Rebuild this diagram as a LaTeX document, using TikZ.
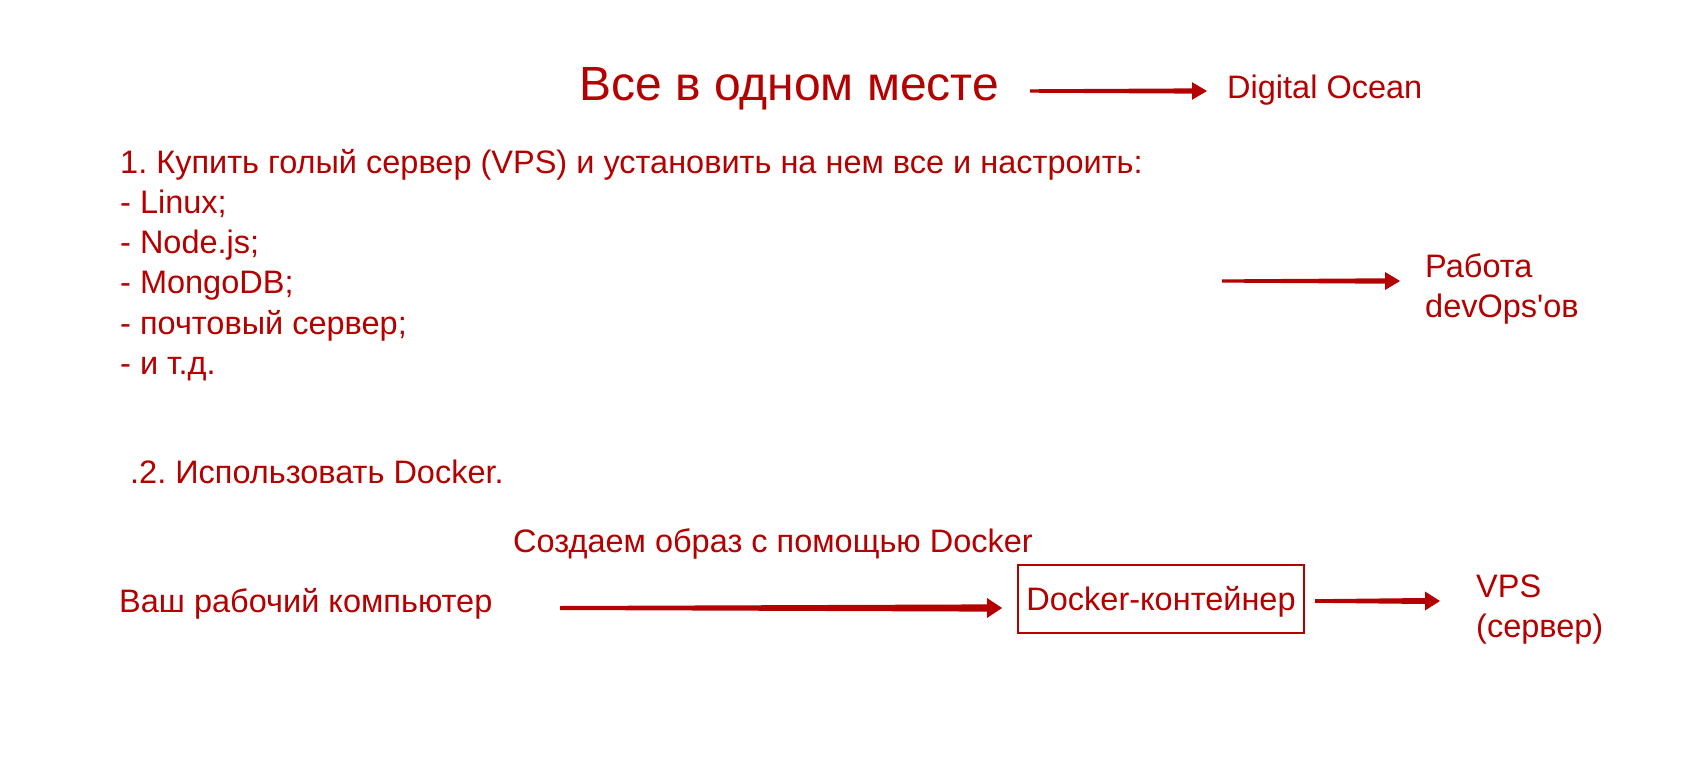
\documentclass[tikz,border=0pt]{standalone}
\usepackage{fontspec}
\setmainfont{Liberation Sans}
\usetikzlibrary{calc}
\frenchspacing
\definecolor{dred}{RGB}{180,0,0}
\newcommand\taperarrow[6]{%
  \fill[dred] let \p1=(#1), \p2=(#2) in
    (\x1,\y1+#3pt) -- (\x2-#6pt,\y2+#4pt) -- (\x2-#6pt,\y2+#5pt) -- (\x2,\y2)
    -- (\x2-#6pt,\y2-#5pt) -- (\x2-#6pt,\y2-#4pt) -- (\x1,\y1-#3pt) -- cycle;}
\tikzset{
  txt/.style={anchor=base west, inner sep=0pt, text=dred, font=\fontsize{32.5}{40}\selectfont},
  titletxt/.style={txt, font=\fontsize{48}{56}\selectfont},
  boxnode/.style={draw=dred, line width=1.5pt, text=dred, font=\fontsize{32.5}{40}\selectfont,
    minimum width=286pt, minimum height=68pt, text height=23pt, text depth=0pt, inner sep=0pt}
}
\begin{document}
\begin{tikzpicture}[x=1pt,y=-1pt]
\useasboundingbox (0,0) rectangle (1695,757);
\fill[white] (0,0) rectangle (1695,757);
% title line
\node[titletxt] (title) at (579,101) {Все в одном месте};
\node[txt] (ocean) at (1227,99) {Digital Ocean};
\coordinate (a1s) at (1030,91);
\coordinate (a1e) at (1207,91);
\taperarrow{a1s}{a1e}{1.7}{2.6}{8.8}{15}
% list
\node[txt] (l1) at (120,173) {1. Купить голый сервер (VPS) и установить на нем все и настроить:};
\node[txt] (l2) at (120,213) {- Linux;};
\node[txt] (l3) at (120,253) {- Node.js;};
\node[txt] (l4) at (120,293) {- MongoDB;};
\node[txt] (l5) at (120,334) {- почтовый сервер;};
\node[txt] (l6) at (120,374) {- и т.д.};
\coordinate (a2s) at (1222,281);
\coordinate (a2e) at (1400,281);
\taperarrow{a2s}{a2e}{1.6}{2.7}{9}{15}
\node[txt] (rab1) at (1425,277) {Работа};
\node[txt] (rab2) at (1425,317) {devOps\textquotesingle ов};
% docker
\node[txt] (d2) at (130,483) {.2. Использовать Docker.};
\node[txt] (create) at (513,552) {Создаем образ с помощью Docker};
\node[txt] (pc) at (119,612) {Ваш рабочий компьютер};
\node[boxnode] (box) at (1161,599) {Docker-контейнер};
\node[txt] (vps1) at (1476,597) {VPS};
\node[txt] (vps2) at (1476,637) {(сервер)};
\coordinate (a3s) at (560,608);
\coordinate (a3e) at (1002,608);
\taperarrow{a3s}{a3e}{2}{3.6}{10}{15}
\coordinate (a4s) at (1315,601);
\coordinate (a4e) at (1440,601);
\taperarrow{a4s}{a4e}{1.8}{3}{9.5}{15}
\end{tikzpicture}
\end{document}
